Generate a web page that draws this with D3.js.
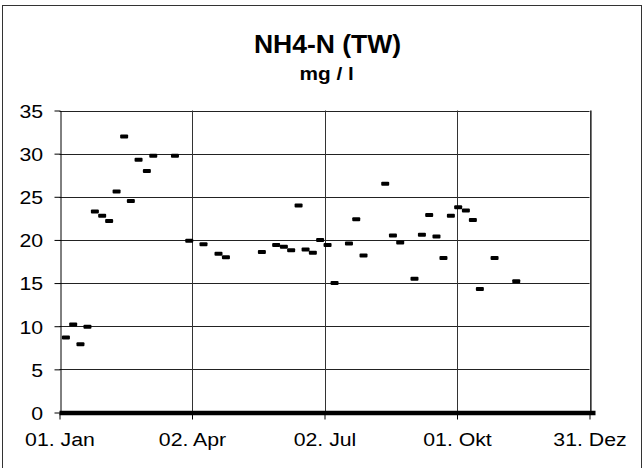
<!DOCTYPE html>
<html>
<head>
<meta charset="utf-8">
<script src="https://cdn.jsdelivr.net/npm/d3@7"></script>
<style>
  html, body { margin: 0; padding: 0; background: #fff; }
  svg { display: block; }
  text { font-family: Arial, "Liberation Sans", sans-serif; fill: #000; }
</style>
</head>
<body>
<svg id="chart" width="643" height="468"></svg>
<script>
// ---- data (day of year, NH4-N mg/l) ----
const sampleDays = [4.4, 9.4, 14.4, 19.2, 24.3, 29.3, 34.1, 39.2, 44.4, 49, 54.3, 60, 64.4, 79.3, 89.1, 98.9, 109.2, 114.3,
  139, 148.8, 154.1, 159.1, 164.2, 169, 174, 179, 184.1, 188.9, 198.8, 203.8, 208.8, 223.7, 229, 234, 243.8, 248.9,
  253.9, 258.9, 263.7, 268.8, 273.8, 279.1, 283.9, 288.7, 298.8, 313.7];
const nh4Values = [8.7, 10.2, 7.9, 9.95, 23.3, 22.8, 22.2, 25.6, 32.0, 24.5, 29.3, 28.0, 29.75, 29.75, 19.9, 19.5, 18.4, 18.0,
  18.6, 19.4, 19.2, 18.8, 24.0, 18.9, 18.5, 20.0, 19.4, 15.0, 19.6, 22.4, 18.2, 26.5, 20.5, 19.7, 15.5, 20.6,
  22.9, 20.4, 17.9, 22.8, 23.8, 23.4, 22.3, 14.3, 17.9, 15.2];
const zeroSeriesDays = [0, 364];
const zeroSeriesValues = [0, 0];
const xTickDays = [0, 91, 182, 273, 364];
const xTickLabels = ["01. Jan", "02. Apr", "02. Jul", "01. Okt", "31. Dez"];
const yTicks = [0, 5, 10, 15, 20, 25, 30, 35];
const titleText = "NH4-N (TW)";
const subtitleText = "mg / l";

const svg = d3.select("#chart");

// outer frame
svg.append("rect").attr("x", 2.5).attr("y", 5.5).attr("width", 639).attr("height", 470)
  .attr("fill", "none").attr("stroke", "#333").attr("stroke-width", 1);

const x = d3.scaleLinear().domain([0, 364]).range([59.5, 589.5]);
const y = d3.scaleLinear().domain([0, 35]).range([412.5, 110.5]);
const px = v => Math.round(v) + 0.5;

const g = svg.append("g");

// horizontal gridlines
g.selectAll("line.hg").data(yTicks.filter(t => t > 0)).join("line")
  .attr("x1", x(0)).attr("x2", x(364))
  .attr("y1", d => px(y(d))).attr("y2", d => px(y(d)))
  .attr("stroke", "#222").attr("stroke-width", 1);

// vertical gridlines
g.selectAll("line.vg").data(xTickDays.slice(1)).join("line")
  .attr("x1", d => px(x(d))).attr("x2", d => px(x(d)))
  .attr("y1", y(35)).attr("y2", y(0))
  .attr("stroke", "#333").attr("stroke-width", 1);

// plot-area right border (double-ish)
g.append("line").attr("x1", px(x(364)) + 1).attr("x2", px(x(364)) + 1)
  .attr("y1", y(35)).attr("y2", y(0)).attr("stroke", "#777").attr("stroke-width", 1);

// y axis
const yAxis = g.append("g").attr("transform", `translate(${px(x(0))},0)`)
  .call(d3.axisLeft(y).tickValues(yTicks).tickSize(6).tickSizeOuter(0));
yAxis.select(".domain").attr("stroke", "#000");
yAxis.selectAll(".tick line").attr("stroke", "#000");
yAxis.selectAll(".tick text")
  .attr("x", -15.6).attr("dy", "0.36em")
  .attr("transform", "scale(1.12,1)")
  .style("font-size", "19px").style("font-family", "Arial, 'Liberation Sans', sans-serif")
  .attr("text-anchor", "end");

// x axis
const xAxis = g.append("g").attr("transform", `translate(0,${px(y(0))})`)
  .call(d3.axisBottom(x).tickValues(xTickDays).tickSize(6).tickSizeOuter(0)
    .tickFormat((d, i) => xTickLabels[i]));
xAxis.select(".domain").attr("stroke", "#000");
xAxis.selectAll(".tick line").attr("stroke", "#000");
xAxis.selectAll(".tick text")
  .attr("y", 33).attr("dy", 0)
  .attr("transform", "scale(1.12,1)")
  .style("font-size", "19px").style("font-family", "Arial, 'Liberation Sans', sans-serif");

// zero series: thick line along baseline
g.append("line")
  .attr("x1", x(zeroSeriesDays[0])).attr("x2", x(zeroSeriesDays[1]) + 6)
  .attr("y1", y(zeroSeriesValues[0]) + 0.5).attr("y2", y(zeroSeriesValues[1]) + 0.5)
  .attr("stroke", "#000").attr("stroke-width", 4.5);

// dash markers
const pts = sampleDays.map((d, i) => ({ d, v: nh4Values[i] }));
g.selectAll("rect.m").data(pts).join("rect")
  .attr("x", p => x(p.d) - 4).attr("y", p => y(p.v) - 2)
  .attr("width", 8).attr("height", 4).attr("rx", 1)
  .attr("fill", "#000");

// titles
svg.append("text").attr("transform", "translate(327.5,53) scale(1.04,1)")
  .attr("text-anchor", "middle").style("font-size", "25.5px").style("font-weight", "bold")
  .text(titleText);
svg.append("text").attr("transform", "translate(326.7,80) scale(1.12,1)")
  .attr("text-anchor", "middle").style("font-size", "18.6px").style("font-weight", "bold")
  .text(subtitleText);
</script>
</body>
</html>
